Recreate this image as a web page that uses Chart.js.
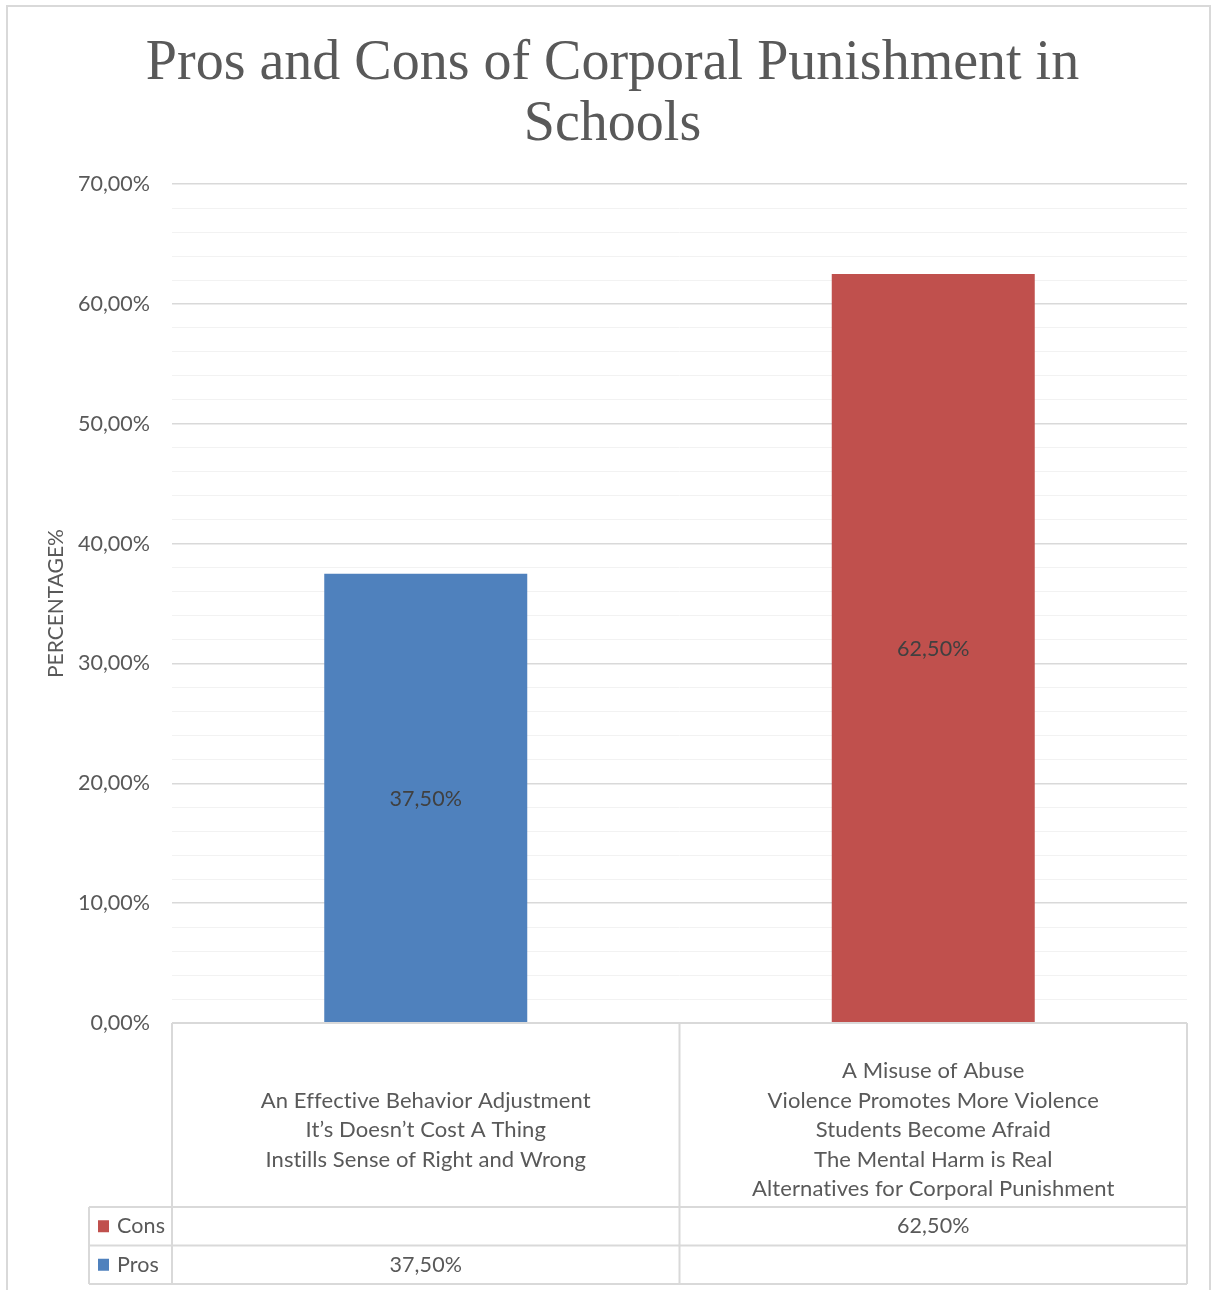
<!DOCTYPE html>
<html>
<head>
<meta charset="utf-8">
<script src="https://cdn.jsdelivr.net/npm/chart.js@4/dist/chart.umd.min.js"></script>
<style>
  html, body { margin: 0; padding: 0; background: #ffffff; }
  #wrap { width: 1213px; height: 1290px; position: relative; }
</style>
</head>
<body>
<div id="wrap"><canvas id="chart" width="1213" height="1290"></canvas></div>
<script>
// Chart data
const titleLines = ['Pros and Cons of Corporal Punishment in', 'Schools'];
const categories = [
  ['An Effective Behavior Adjustment', 'It\u2019s Doesn\u2019t Cost A Thing', 'Instills Sense of Right and Wrong'],
  ['A Misuse of Abuse', 'Violence Promotes More Violence', 'Students Become Afraid', 'The Mental Harm is Real', 'Alternatives for Corporal Punishment']
];
const seriesNames = ['Pros', 'Cons'];
const prosValues = [37.5, null];
const consValues = [null, 62.5];
const yAxisTitle = 'PERCENTAGE%';
const yMax = 70;

const BODY_FONT = 'Lato, "Open Sans", sans-serif';
const TEXT = '#595959';
const LINE = '#d9d9d9';
const colors = { Pros: '#4F81BD', Cons: '#C0504D' };

const fmt = v => v.toFixed(2).replace('.', ',') + '%';

// Outer frame, category labels, value labels and the data table under the plot
const tablePlugin = {
  id: 'excelTable',
  beforeDraw(chart) {
    const ctx = chart.ctx;
    ctx.save();
    ctx.fillStyle = '#ffffff';
    ctx.fillRect(0, 0, chart.width, chart.height);
    ctx.strokeStyle = LINE;
    ctx.lineWidth = 2;
    ctx.strokeRect(7, 6, 1203, 1320);
    ctx.restore();
  },
  afterDatasetsDraw(chart) {
    const ctx = chart.ctx;
    const area = chart.chartArea;
    const x = chart.scales.x;
    ctx.save();
    // a tiny letter spacing keeps "ti" from being drawn as a ligature
    if ('letterSpacing' in ctx) ctx.letterSpacing = '0.1px';

    // value labels inside the bars
    ctx.font = '21.5px ' + BODY_FONT;
    ctx.fillStyle = '#404040';
    ctx.textAlign = 'center';
    ctx.textBaseline = 'middle';
    chart.data.datasets.forEach((ds, di) => {
      const meta = chart.getDatasetMeta(di);
      meta.data.forEach((bar, j) => {
        const v = ds.data[j];
        if (v === null || v === undefined) return;
        ctx.fillText(fmt(v), bar.x, (bar.y + bar.base) / 2 + 1);
      });
    });

    // table geometry
    const n = categories.length;
    const step = x.getPixelForValue(1) - x.getPixelForValue(0);
    const edges = [];
    for (let i = 0; i <= n; i++) {
      edges.push(i === n ? area.right : x.getPixelForValue(i) - step / 2);
    }
    const catBottom = 1207;
    const rowH = 38.5;
    const tableLeft = 89;
    const rows = ['Cons', 'Pros'];

    ctx.strokeStyle = LINE;
    ctx.lineWidth = 2;
    ctx.beginPath();
    ctx.moveTo(area.left, area.bottom);
    ctx.lineTo(area.right, area.bottom);
    for (let r = 0; r <= rows.length; r++) {
      const yy = catBottom + r * rowH;
      ctx.moveTo(tableLeft, yy);
      ctx.lineTo(area.right, yy);
    }
    edges.forEach(ex => {
      ctx.moveTo(ex, area.bottom);
      ctx.lineTo(ex, catBottom + rows.length * rowH);
    });
    ctx.moveTo(tableLeft, catBottom);
    ctx.lineTo(tableLeft, catBottom + rows.length * rowH);
    ctx.stroke();

    // category labels
    ctx.fillStyle = TEXT;
    ctx.font = '22px ' + BODY_FONT;
    const lh = 29.5;
    const mid = 1130;
    categories.forEach((lines, j) => {
      const cx = x.getPixelForValue(j);
      const top = mid - (lines.length - 1) * lh / 2;
      lines.forEach((t, k) => ctx.fillText(t, cx, top + k * lh));
    });

    // table rows: legend key, name, values
    ctx.font = '21.5px ' + BODY_FONT;
    rows.forEach((name, r) => {
      const cy = catBottom + r * rowH + rowH / 2;
      ctx.fillStyle = colors[name];
      ctx.fillRect(98, cy - 6, 11, 12);
      ctx.fillStyle = TEXT;
      ctx.textAlign = 'left';
      ctx.fillText(name, 117, cy);
      ctx.textAlign = 'center';
      const di = seriesNames.indexOf(name);
      chart.data.datasets[di].data.forEach((v, j) => {
        if (v === null || v === undefined) return;
        ctx.fillText(fmt(v), x.getPixelForValue(j), cy);
      });
    });
    ctx.restore();
  }
};

new Chart(document.getElementById('chart'), {
  type: 'bar',
  data: {
    labels: categories,
    datasets: [
      { label: seriesNames[0], data: prosValues, backgroundColor: colors.Pros, barPercentage: 0.4, categoryPercentage: 1 },
      { label: seriesNames[1], data: consValues, backgroundColor: colors.Cons, barPercentage: 0.4, categoryPercentage: 1 }
    ]
  },
  options: {
    responsive: false,
    animation: false,
    layout: { padding: { top: 0, right: 26, bottom: 0, left: 38 } },
    plugins: {
      legend: { display: false },
      tooltip: { enabled: false },
      title: {
        display: true,
        text: titleLines,
        color: TEXT,
        font: { family: '"Liberation Serif", serif', size: 56, weight: 'normal', lineHeight: 1.1 },
        padding: { top: 33, bottom: 28 }
      }
    },
    scales: {
      x: {
        stacked: true,
        grid: { display: false },
        border: { display: false },
        ticks: { display: false },
        afterFit(s) { s.height = 267; }
      },
      y: {
        stacked: true,
        min: 0,
        max: yMax,
        border: { display: false },
        grid: {
          drawTicks: false,
          color: c => (c.tick && c.tick.value % 10 === 0) ? '#d9d9d9' : '#f2f2f2',
          lineWidth: c => (c.tick && c.tick.value % 10 === 0) ? 1.5 : 1
        },
        ticks: {
          stepSize: 2,
          autoSkip: false,
          maxTicksLimit: 100,
          padding: 22,
          color: TEXT,
          font: { family: BODY_FONT, size: 21.5 },
          callback: v => (v % 10 === 0) ? fmt(v) : ''
        },
        title: {
          display: true,
          text: yAxisTitle,
          color: TEXT,
          font: { family: BODY_FONT, size: 21 },
          padding: { top: 6, bottom: 0 }
        },
        afterFit(s) { s.width = 134; }
      }
    }
  },
  plugins: [tablePlugin]
});
</script>
</body>
</html>
